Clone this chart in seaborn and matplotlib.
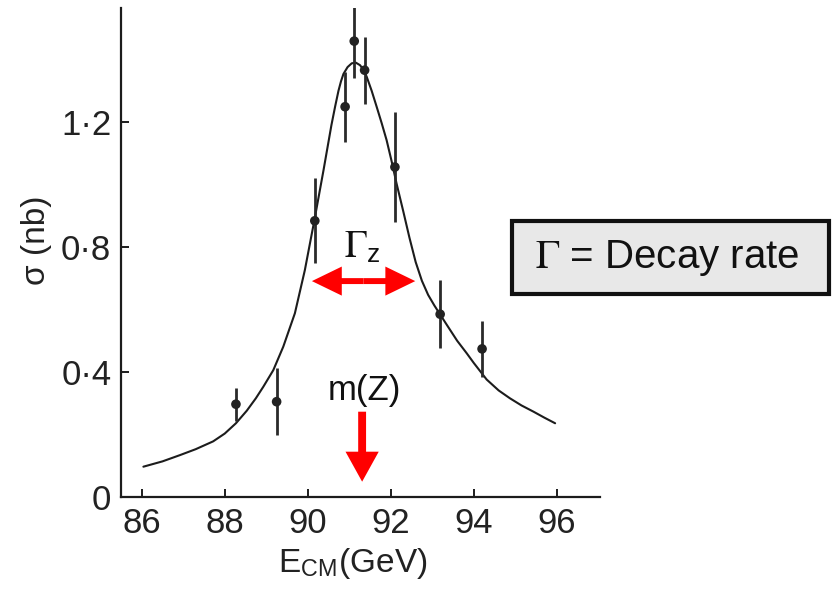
import matplotlib
matplotlib.use("Agg")
import matplotlib.pyplot as plt
import seaborn as sns
from matplotlib.patches import Rectangle

# Measured e+e- cross sections around the Z pole
energy = [88.27, 89.25, 90.17, 90.90, 91.12, 91.37, 92.10, 93.19, 94.20]
sigma = [0.297, 0.305, 0.884, 1.249, 1.459, 1.366, 1.056, 0.585, 0.474]
sigma_err = [0.053, 0.107, 0.136, 0.112, 0.117, 0.107, 0.176, 0.108, 0.090]

# Fitted line shape
fit_energy = [86.04, 86.50, 86.92, 87.30, 87.72, 88.00, 88.27, 88.53, 88.75,
              88.93, 89.17, 89.41, 89.69, 89.93, 90.16, 90.38, 90.57, 90.66,
              90.74, 90.80, 90.86, 90.96, 91.06, 91.16, 91.26, 91.34, 91.42,
              91.54, 91.66, 91.78, 91.90, 92.02, 92.14, 92.30, 92.45, 92.60,
              92.75, 92.90, 93.05, 93.19, 93.35, 93.60, 93.83, 94.00, 94.31,
              94.60, 94.87, 95.15, 95.44, 95.70, 95.96]
fit_sigma = [0.097, 0.114, 0.134, 0.153, 0.178, 0.203, 0.236, 0.276, 0.316,
             0.353, 0.406, 0.481, 0.588, 0.726, 0.886, 1.046, 1.190, 1.250,
             1.300, 1.330, 1.354, 1.376, 1.388, 1.390, 1.382, 1.368, 1.345,
             1.300, 1.249, 1.197, 1.142, 1.075, 1.003, 0.915, 0.830, 0.752,
             0.692, 0.647, 0.613, 0.584, 0.551, 0.500, 0.460, 0.429, 0.376,
             0.341, 0.316, 0.293, 0.273, 0.254, 0.236]

x_ticks = [86, 88, 90, 92, 94, 96]
y_ticks = [0, 0.4, 0.8, 1.2]
y_tick_labels = ["0", "0·4", "0·8", "1·2"]

sns.set_theme(style="ticks")
plt.rcParams["font.family"] = ["Liberation Sans", "DejaVu Sans"]
plt.rcParams["mathtext.fontset"] = "stix"

ink = "#1c1c1c"
red = "#ff0000"

fig = plt.figure(figsize=(8.32, 5.89), dpi=100)
ax = fig.add_axes([0.1454, 0.1562, 0.5757, 0.8302])

sns.lineplot(x=fit_energy, y=fit_sigma, ax=ax, color=ink, linewidth=1.5,
             sort=False, estimator=None)
ax.errorbar(energy, sigma, yerr=sigma_err, fmt="none", ecolor="#2a2a2a",
            elinewidth=2.0, capsize=0, zorder=3)
sns.scatterplot(x=energy, y=sigma, ax=ax, s=48, color="#222222",
                edgecolor="none", zorder=4)

ax.set_xlim(85.50, 97.04)
ax.set_ylim(0, 1.565)
ax.set_xticks(x_ticks)
ax.set_yticks(y_ticks)
ax.set_yticklabels(y_tick_labels)
ax.set_xlabel("")
ax.set_ylabel("")
for side in ("top", "right"):
    ax.spines[side].set_visible(False)
for side in ("left", "bottom"):
    ax.spines[side].set_linewidth(1.6)
    ax.spines[side].set_color(ink)
ax.tick_params(direction="in", length=6, width=1.4, color=ink,
               labelsize=25, labelcolor="#222222", pad=7)

# Axis titles
fig.text(353 / 832, 1 - 572 / 589, r"E$_{\mathregular{CM}}$(GeV)",
         ha="center", va="baseline", fontsize=24, color="#222222")
fig.text(36 / 832, 1 - 240 / 589, "σ (nb)", rotation=90,
         ha="center", va="center", fontsize=24, color="#222222")

# Width arrow (Γz) and pole-mass arrow m(Z)
mid = 91.345
half = 1.245
for direction in (-1, 1):
    ax.arrow(mid, 0.691, direction * half, 0, width=0.019, head_width=0.093,
             head_length=0.72, length_includes_head=True, color=red,
             linewidth=0, zorder=5)
ax.arrow(91.31, 0.273, 0, -0.224, width=0.19, head_width=0.80,
         head_length=0.096, length_includes_head=True, color=red,
         linewidth=0, zorder=5)

ax.text(91.31, 0.765, r"$\Gamma_{\mathregular{z}}$", ha="center",
        va="baseline", fontsize=27, color="#111111")
ax.text(91.36, 0.31, "m(Z)", ha="center", va="baseline", fontsize=25,
        color="#111111")

# Definition box
fig.patches.append(Rectangle((512 / 832, 1 - 294 / 589), 317 / 832, 73 / 589,
                             transform=fig.transFigure, facecolor="#e8e8e8",
                             edgecolor="#111111", linewidth=3.0))
fig.text(535 / 832, 1 - 258 / 589, r"$\Gamma$ = Decay rate", ha="left",
         va="center", fontsize=29, color="#111111")

fig.savefig("out.png", dpi=100)
